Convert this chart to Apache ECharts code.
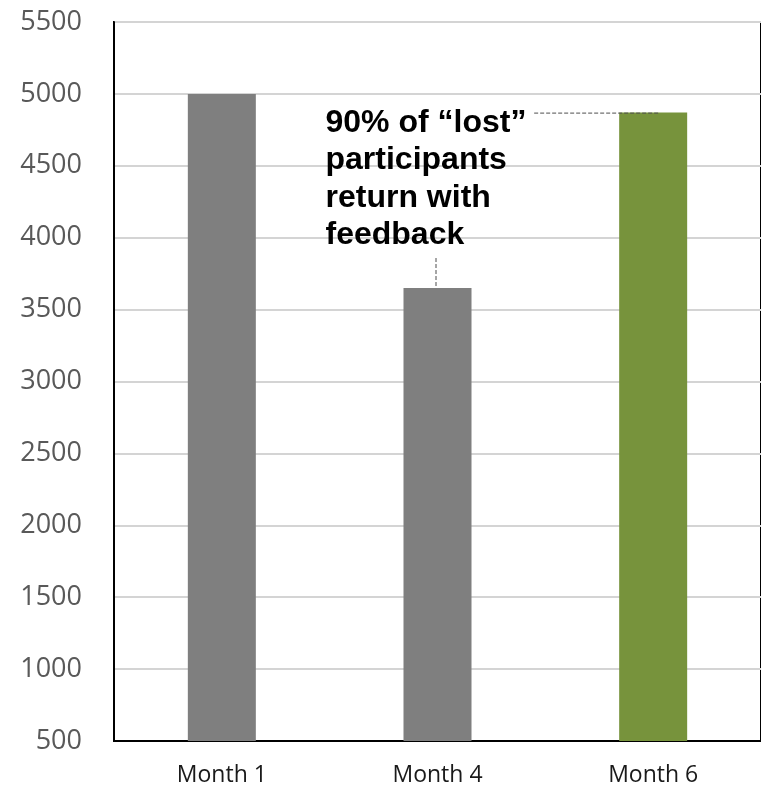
<!DOCTYPE html>
<html>
<head>
<meta charset="utf-8">
<script src="https://cdn.jsdelivr.net/npm/echarts@6/dist/echarts.min.js"></script>
<style>
  html, body { margin: 0; padding: 0; background: #fff; }
  #chart { width: 761px; height: 787px; }
</style>
</head>
<body>
<div id="chart"></div>
<script>
// Participants by follow-up month
const categories = ['Month 1', 'Month 4', 'Month 6'];
const participants = [5000, 3650, 4870];
const barColors = ['#7f7f7f', '#7f7f7f', '#77933c'];
const yTicks = { min: 500, max: 5500, step: 500 };
const calloutText = '90% of \u201clost\u201d\nparticipants\nreturn with\nfeedback';

const chart = echarts.init(document.getElementById('chart'), null, { renderer: 'canvas' });

chart.setOption({
  animation: false,
  backgroundColor: '#ffffff',
  grid: {
    left: 114, right: -4, top: 22, bottom: 46,
    show: true, borderColor: '#000', borderWidth: 2
  },
  xAxis: {
    type: 'category',
    data: categories,
    axisLine: { show: true, lineStyle: { color: '#000', width: 2 } },
    axisTick: { show: false },
    axisLabel: {
      color: '#1a1a1a', fontFamily: 'Open Sans', fontSize: 23, margin: 23
    }
  },
  yAxis: {
    type: 'value',
    min: yTicks.min, max: yTicks.max, interval: yTicks.step,
    axisLine: { show: true, lineStyle: { color: '#000', width: 2 } },
    axisTick: { show: false },
    splitLine: { show: true, lineStyle: { color: '#d4d4d4', width: 2 } },
    axisLabel: {
      color: '#595959', fontFamily: 'Open Sans', fontSize: 27, margin: 32,
      formatter: (v) => String(v)
    }
  },
  series: [{
    type: 'bar',
    barWidth: 68,
    data: participants.map((v, i) => ({ value: v, itemStyle: { color: barColors[i] } }))
  }]
});

// Callout: text, leader line to Month 6 bar top, tick above Month 4 bar
function drawCallout() {
  const p4 = chart.convertToPixel({ seriesIndex: 0 }, [1, participants[1]]);
  const p6 = chart.convertToPixel({ seriesIndex: 0 }, [2, participants[2]]);
  const dash = { stroke: '#4d4d4d', lineWidth: 1, lineDash: [4, 2] };
  chart.setOption({
    graphic: [
      {
        type: 'text', left: p4[0] - 112, top: 104, z: 10,
        style: {
          text: calloutText, fill: '#000',
          font: 'bold 32px "Liberation Sans", Arial, sans-serif',
          lineHeight: 37.5
        }
      },
      {
        type: 'line', z: 10,
        shape: { x1: p6[0] - 119, y1: p6[1] + 0.5, x2: p6[0] + 7, y2: p6[1] + 0.5 },
        style: dash
      },
      {
        type: 'line', z: 10,
        shape: { x1: p4[0] - 1.5, y1: p4[1] - 30, x2: p4[0] - 1.5, y2: p4[1] - 2 },
        style: dash
      }
    ]
  });
}
drawCallout();
</script>
</body>
</html>
